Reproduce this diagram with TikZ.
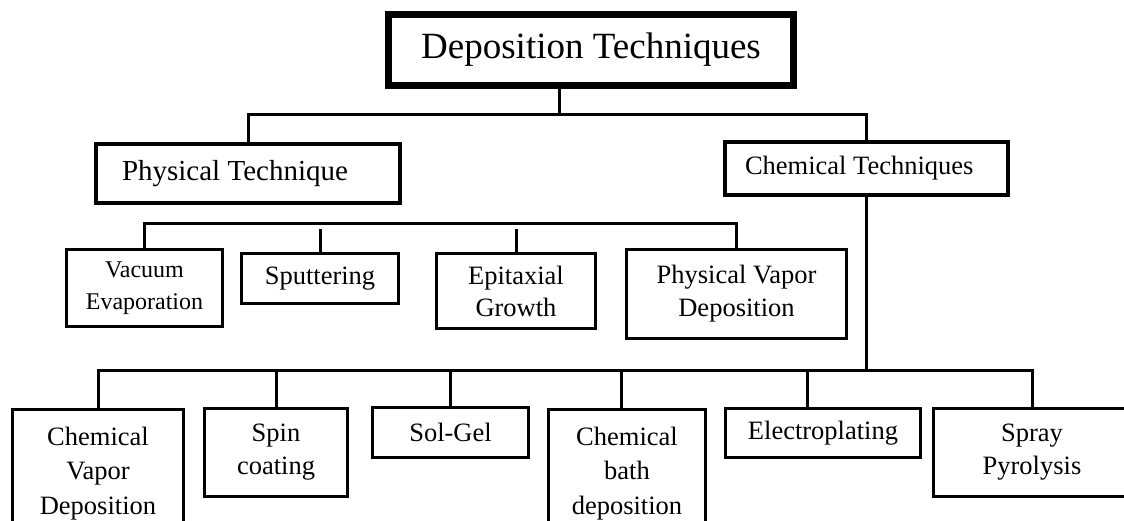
\documentclass[tikz,border=0pt]{standalone}
\usepackage{fontspec}
\setmainfont{Liberation Serif}
\usepackage{tikz}
\tikzset{techbox/.style={draw,line width=3bp,align=center,inner sep=2bp,font=\fontsize{26.5bp}{33bp}\selectfont} }
\tikzset{headbox/.style={draw,align=flush left,inner ysep=2bp,font=\fontsize{29bp}{35bp}\selectfont} }

\begin{document}
\begin{tikzpicture}[x=1bp,y=-1bp,line width=3bp]
    \useasboundingbox (0,0) rectangle (1124,521);
    \clip (0,0) rectangle (1124,521);
    \node[techbox,line width=7bp,minimum width=405bp,minimum height=71bp,font=\fontsize{37bp}{44bp}\selectfont] (dep) at (591,50) {Deposition Techniques};
    \node[headbox,line width=4.5bp,inner xsep=26bp,text width=252bp,minimum height=59bp] (phys) at (248,173.5) {Physical Technique};
    \node[headbox,line width=4bp,inner xsep=20bp,text width=243bp,minimum height=53bp,font=\fontsize{26.5bp}{33bp}\selectfont] (chem) at (866.5,168.5) {Chemical Techniques};
    \node[techbox,minimum width=156bp,minimum height=77bp,font=\fontsize{24bp}{32bp}\selectfont] (vac) at (144.5,288) {Vacuum\\Evaporation};
    \node[techbox,minimum width=157bp,minimum height=50bp] (sput) at (320,278.5) {Sputtering};
    \node[techbox,minimum width=159bp,minimum height=75bp,font=\fontsize{26.5bp}{32bp}\selectfont] (epi) at (516,291) {Epitaxial\\Growth};
    \node[techbox,minimum width=220bp,minimum height=89bp] (pvd) at (736.5,294) {Physical Vapor\\Deposition};
    \node[techbox,minimum width=171bp,minimum height=128bp,font=\fontsize{26.5bp}{34.5bp}\selectfont] (cvd) at (98,473.5) {Chemical\\Vapor\\Deposition};
    \node[techbox,minimum width=143bp,minimum height=88bp] (spin) at (276,452.5) {Spin\\coating};
    \node[techbox,minimum width=156bp,minimum height=50bp] (sol) at (450.5,432.5) {Sol-Gel};
    \node[techbox,minimum width=157bp,minimum height=128bp,font=\fontsize{26.5bp}{34.5bp}\selectfont] (cbd) at (627,473.5) {Chemical\\bath\\deposition};
    \node[techbox,minimum width=195bp,minimum height=49bp] (elec) at (823,433) {Electroplating};
    \node[techbox,minimum width=197bp,minimum height=88bp] (spray) at (1032,452.5) {Spray\\Pyrolysis};
    \coordinate (top) at (559,115);
    \coordinate (pbus) at (0,224);
    \coordinate (pgap) at (0,229);
    \coordinate (cbus) at (0,371);
    \coordinate (cdrop) at (621,371);
    \coordinate (edrop) at (807,371);
    \draw (dep.south -| top) -- (top);
    \draw (phys.north) |- (top) -| (chem.north);
    \draw (vac.north) |- (pbus -| pvd.north) -- (pvd.north);
    \draw (sput.north) -- (sput.north |- pgap);
    \draw (epi.north) -- (epi.north |- pgap);
    \draw (chem.south) -- (chem.south |- cbus);
    \draw (cvd.north) |- (cbus -| spray.north) -- (spray.north);
    \draw (spin.north) -- (spin.north |- cbus);
    \draw (sol.north) -- (sol.north |- cbus);
    \draw (cdrop) -- (cdrop |- cbd.north);
    \draw (edrop) -- (edrop |- elec.north);
\end{tikzpicture}
\end{document}
